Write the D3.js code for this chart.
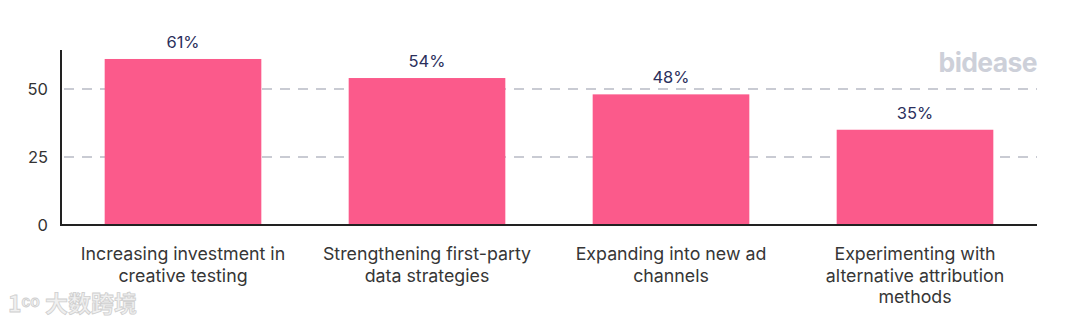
<!DOCTYPE html>
<html><head><meta charset="utf-8">
<script src="https://cdn.jsdelivr.net/npm/d3@7"></script>
<style>body{margin:0;background:#fff}svg{display:block}</style>
</head><body>
<script>
const categories = [
  ["Increasing investment in", "creative testing"],
  ["Strengthening first-party", "data strategies"],
  ["Expanding into new ad", "channels"],
  ["Experimenting with", "alternative attribution", "methods"]
];
const values = [61, 54, 48, 35];
const valueLabels = ["61%", "54%", "48%", "35%"];
const yTicks = [0, 25, 50];

const W = 1080, H = 323;
const m = {left: 61, right: 43, top: 50, bottom: 98};
const svg = d3.select("body").append("svg").attr("width", W).attr("height", H)
  .style("font-family", "Inter, 'Noto Sans', sans-serif");

const x = d3.scaleBand().domain(d3.range(values.length))
  .range([m.left, W - m.right]).paddingInner(0.358).paddingOuter(0.179);
const y = d3.scaleLinear().domain([0, 64.3]).range([H - m.bottom, m.top]);

// grid
svg.append("g").selectAll("line").data(yTicks.filter(d => d > 0)).join("line")
  .attr("x1", m.left + 3).attr("x2", W - m.right)
  .attr("y1", d => y(d)).attr("y2", d => y(d))
  .attr("stroke", "#c9cbd3").attr("stroke-width", 2).attr("stroke-dasharray", "10,8");

// watermark
svg.append("text").attr("x", W - m.right).attr("y", 72).attr("text-anchor", "end")
  .attr("font-size", 26.5).attr("font-weight", 700).attr("fill", "#cdd0d9")
  .attr("letter-spacing", "-0.6").text("bidease");

// bars
svg.append("g").selectAll("rect").data(values).join("rect")
  .attr("x", (d, i) => x(i)).attr("width", x.bandwidth())
  .attr("y", d => y(d)).attr("height", d => y(0) - y(d))
  .attr("fill", "#fb5a8b");

// value labels
svg.append("g").selectAll("text").data(values).join("text")
  .attr("x", (d, i) => x(i) + x.bandwidth() / 2).attr("y", d => y(d) - 11)
  .attr("text-anchor", "middle").attr("font-size", 16.5).attr("fill", "#2b2f5c")
  .text((d, i) => valueLabels[i]);

// y axis
const ya = svg.append("g").attr("transform", `translate(${m.left},0)`)
  .call(d3.axisLeft(y).tickValues(yTicks).tickSize(0).tickPadding(13));
ya.select(".domain").remove();
ya.selectAll("text").attr("font-size", 16.5).attr("fill", "#333").attr("font-family", "Inter, sans-serif");
svg.append("line").attr("x1", m.left).attr("x2", m.left).attr("y1", m.top).attr("y2", y(0) + 1)
  .attr("stroke", "#222").attr("stroke-width", 2);
svg.append("line").attr("x1", m.left - 1).attr("x2", W - m.right).attr("y1", y(0)).attr("y2", y(0))
  .attr("stroke", "#222").attr("stroke-width", 2);

// category labels
const cg = svg.append("g").selectAll("text").data(categories).join("text")
  .attr("text-anchor", "middle").attr("font-size", 17.8).attr("fill", "#363636")
  .attr("x", (d, i) => x(i) + x.bandwidth() / 2);
cg.selectAll("tspan").data(d => d).join("tspan")
  .attr("x", function() { return d3.select(this.parentNode).attr("x"); })
  .attr("y", (d, j) => 260 + j * 21.6).text(d => d);

// source watermark
svg.append("text").attr("x", 8).attr("y", 312).attr("font-size", 23)
  .attr("font-family", "'Noto Sans CJK SC', sans-serif").attr("font-weight", 700)
  .attr("fill", "#f0f0f0").attr("stroke", "#cfcfcf").attr("stroke-width", 0.8)
  .text("1ᶜᵒ 大数跨境");
</script>
</body></html>
